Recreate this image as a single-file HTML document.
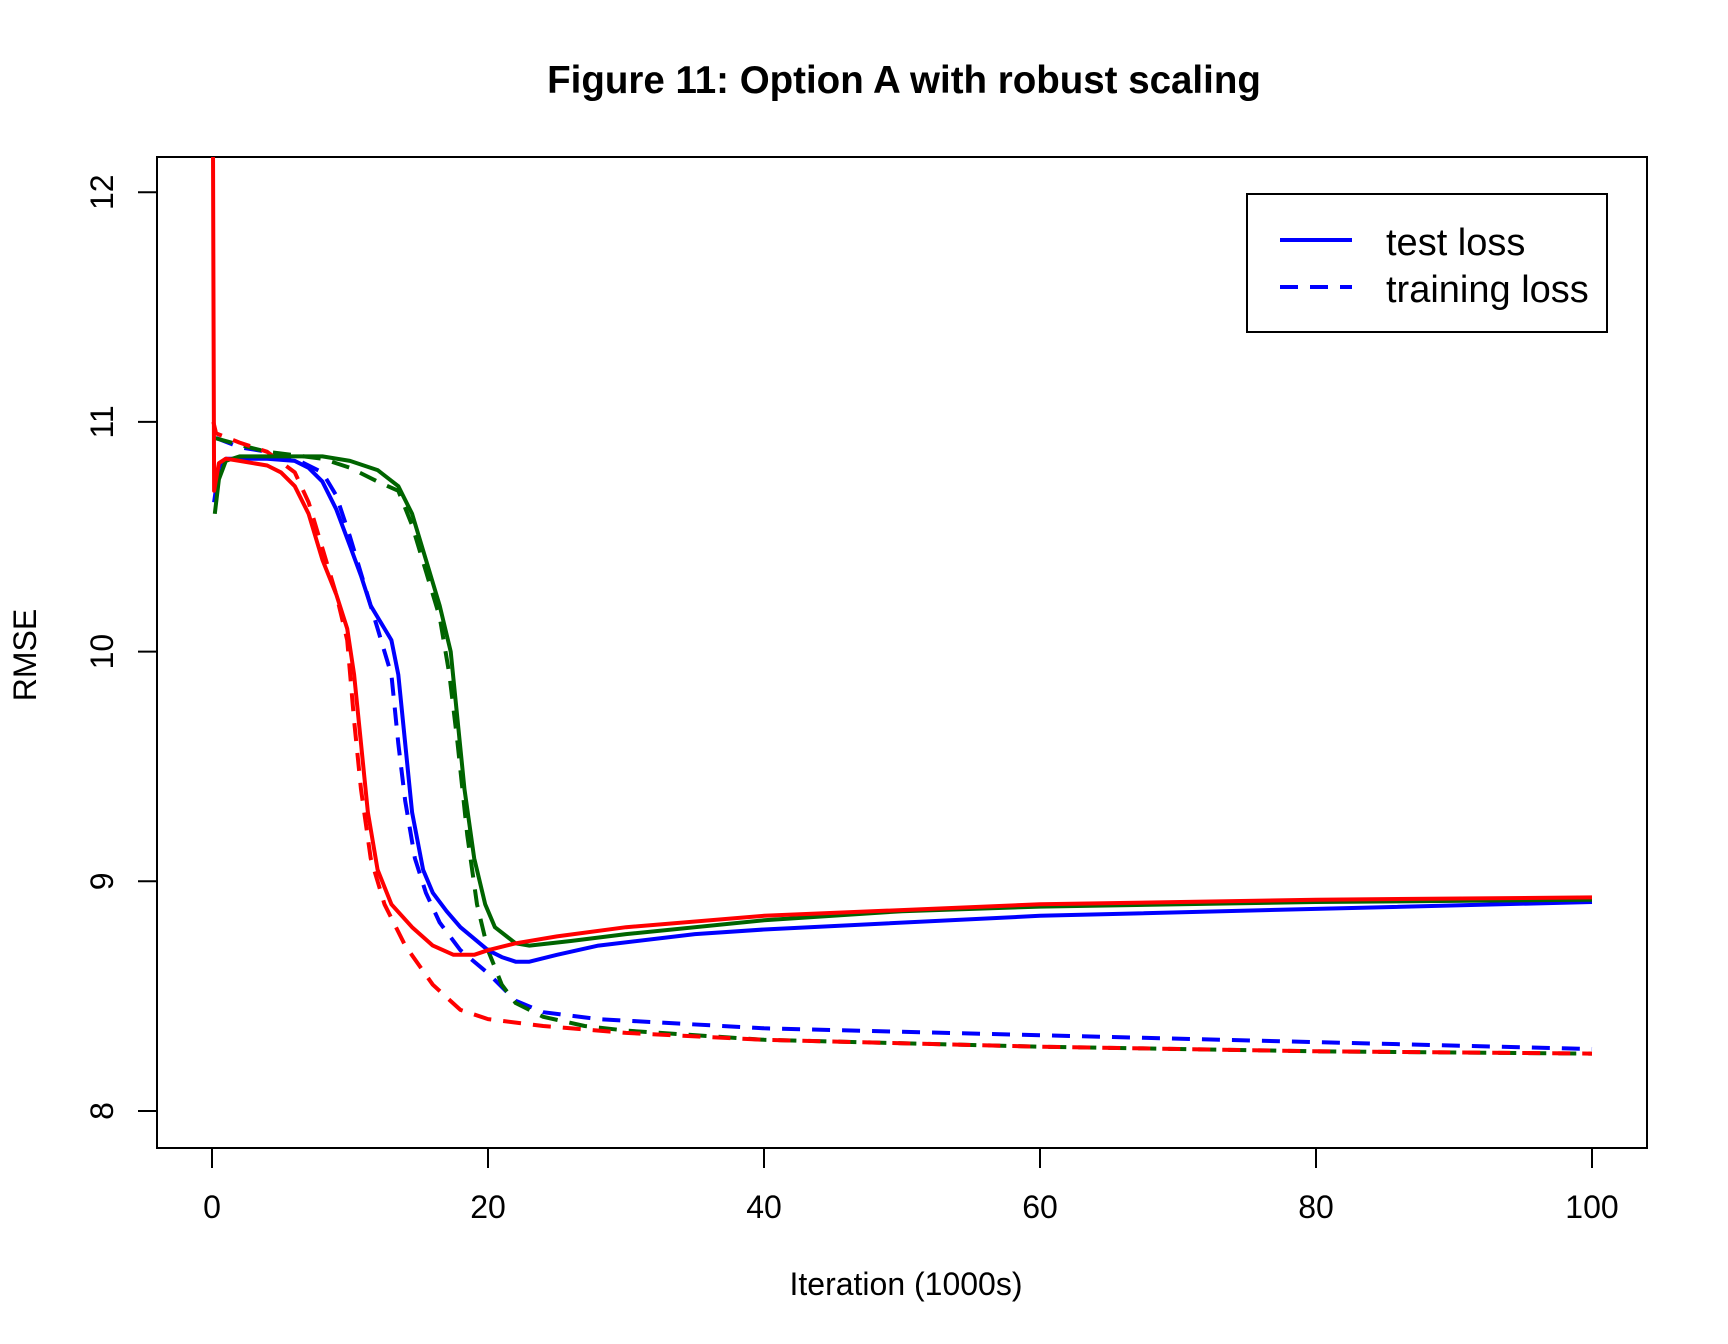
<!DOCTYPE html>
<html><head><meta charset="utf-8"><style>
html,body{margin:0;padding:0;background:#fff;}
svg{display:block;font-family:"Liberation Sans",Arial,sans-serif;}
</style></head><body>
<svg id="chart" width="1728" height="1344" viewBox="0 0 1728 1344">
<defs><clipPath id="plotclip"><rect x="157" y="157" width="1490" height="991"/></clipPath></defs>
<text x="904" y="93" text-anchor="middle" font-size="38.5" font-weight="bold">Figure 11: Option A with robust scaling</text>
<rect x="157" y="157" width="1490" height="991" fill="none" stroke="#000" stroke-width="2"/>
<g id="xaxis"></g>
<g id="yaxis"></g>
<text x="906" y="1295" text-anchor="middle" font-size="32">Iteration (1000s)</text>
<text transform="translate(36,655) rotate(-90)" text-anchor="middle" font-size="32">RMSE</text>
<g id="series" clip-path="url(#plotclip)"></g>
<g>
<rect x="1247" y="194" width="360" height="138" fill="#fff" stroke="#000" stroke-width="2"/>
<line x1="1280" y1="240" x2="1352" y2="240" stroke="#0000ff" stroke-width="4"/>
<line x1="1280" y1="287" x2="1352" y2="287" stroke="#0000ff" stroke-width="4" stroke-dasharray="18,12"/>
<text x="1386" y="255" font-size="38">test loss</text>
<text x="1386" y="302" font-size="38">training loss</text>
</g>
</svg>
<script>
const xTicks = [0, 20, 40, 60, 80, 100];
const yTicks = [8, 9, 10, 11, 12];
const blueTestX = [0.15,0.5,1,4,6,7,8,9,10,10.8,11.5,12.5,13,13.5,14,14.5,15.3,16,17,18,20,21,22,23,25,28,35,40,60,80,100];
const blueTestY = [10.65,10.8,10.84,10.84,10.83,10.8,10.74,10.62,10.46,10.33,10.2,10.1,10.05,9.9,9.6,9.3,9.05,8.95,8.87,8.8,8.7,8.67,8.65,8.65,8.68,8.72,8.77,8.79,8.85,8.88,8.91];
const blueTrainX = [0.3,2,4,6,8,9,10,11,12,13,13.5,14,14.7,15.5,16.5,18,20,22,24,28,40,60,80,100];
const blueTrainY = [10.93,10.89,10.87,10.84,10.78,10.68,10.5,10.3,10.1,9.9,9.6,9.35,9.1,8.95,8.82,8.7,8.6,8.48,8.43,8.4,8.36,8.33,8.3,8.27];
const greenTestX = [0.2,0.5,1,2,5,8,10,12,13.5,14.5,15.5,16.5,17.3,17.8,18.3,19,19.8,20.5,22,23,26,30,40,50,60,80,100];
const greenTestY = [10.6,10.75,10.83,10.85,10.85,10.85,10.83,10.79,10.72,10.6,10.4,10.2,10.0,9.7,9.4,9.1,8.9,8.8,8.73,8.72,8.74,8.77,8.83,8.87,8.89,8.91,8.92];
const greenTrainX = [0.2,2,4,8,10,12,13.5,14.5,15.5,16.5,17.2,17.8,18.5,19.2,20,21,22,24,27,30,40,60,80,100];
const greenTrainY = [10.93,10.9,10.87,10.84,10.8,10.74,10.7,10.55,10.35,10.15,9.9,9.6,9.2,8.9,8.7,8.55,8.47,8.41,8.37,8.35,8.31,8.28,8.26,8.25];
const redTestX = [0.05,0.15,0.5,1,2,4,5,6,7,8,9,9.8,10.3,10.8,11.3,12,13,14.5,16,17.5,19,20,22,25,30,40,60,80,100];
const redTestY = [12.6,10.7,10.82,10.84,10.83,10.81,10.78,10.72,10.6,10.4,10.25,10.1,9.9,9.6,9.3,9.05,8.9,8.8,8.72,8.68,8.68,8.7,8.73,8.76,8.8,8.85,8.9,8.92,8.93];
const redTrainX = [0.1,0.3,2,4,6,7,8,9,9.8,10.3,10.8,11.5,12.5,14,16,18,20,24,30,40,60,80,100];
const redTrainY = [11.0,10.95,10.91,10.87,10.78,10.65,10.45,10.25,10.05,9.7,9.4,9.1,8.9,8.72,8.55,8.44,8.4,8.37,8.34,8.31,8.28,8.26,8.25];

const NS = "http://www.w3.org/2000/svg";
function sx(v){ return 212 + v * 13.8; }
function sy(v){ return 1111 - (v - 8) * 229.7; }

const xg = document.getElementById('xaxis');
xTicks.forEach(t => {
  const l = document.createElementNS(NS, 'line');
  l.setAttribute('x1', sx(t)); l.setAttribute('x2', sx(t));
  l.setAttribute('y1', 1148); l.setAttribute('y2', 1168);
  l.setAttribute('stroke', '#000'); l.setAttribute('stroke-width', '2');
  
  
  xg.appendChild(l);
  const tx = document.createElementNS(NS, 'text');
  tx.setAttribute('x', sx(t)); tx.setAttribute('y', 1218);
  tx.setAttribute('text-anchor', 'middle'); tx.setAttribute('font-size', '32');
  tx.textContent = t;
  
  
  xg.appendChild(tx);
});
const yg = document.getElementById('yaxis');
yTicks.forEach(t => {
  const l = document.createElementNS(NS, 'line');
  l.setAttribute('x1', 138); l.setAttribute('x2', 157);
  l.setAttribute('y1', sy(t)); l.setAttribute('y2', sy(t));
  l.setAttribute('stroke', '#000'); l.setAttribute('stroke-width', '2');
  
  
  yg.appendChild(l);
  const tx = document.createElementNS(NS, 'text');
  tx.setAttribute('transform', 'translate(113,' + sy(t) + ') rotate(-90)');
  tx.setAttribute('text-anchor', 'middle'); tx.setAttribute('font-size', '32');
  tx.textContent = t;
  
  
  yg.appendChild(tx);
});

const sg = document.getElementById('series');
function draw(xs, ys, color, dashed, name){
  const p = document.createElementNS(NS, 'polyline');
  p.setAttribute('points', xs.map((x,i) => sx(x).toFixed(1) + ',' + sy(ys[i]).toFixed(1)).join(' '));
  p.setAttribute('fill', 'none');
  p.setAttribute('stroke', color);
  p.setAttribute('stroke-width', '4');
  p.setAttribute('stroke-linejoin', 'round');
  if (dashed) p.setAttribute('stroke-dasharray', '18,12');
  
  
  sg.appendChild(p);
}
draw(blueTrainX, blueTrainY, '#0000ff', true, 'blue-training-loss');
draw(greenTrainX, greenTrainY, '#006400', true, 'green-training-loss');
draw(redTrainX, redTrainY, '#ff0000', true, 'red-training-loss');
draw(blueTestX, blueTestY, '#0000ff', false, 'blue-test-loss');
draw(greenTestX, greenTestY, '#006400', false, 'green-test-loss');
draw(redTestX, redTestY, '#ff0000', false, 'red-test-loss');
</script>
</body></html>
